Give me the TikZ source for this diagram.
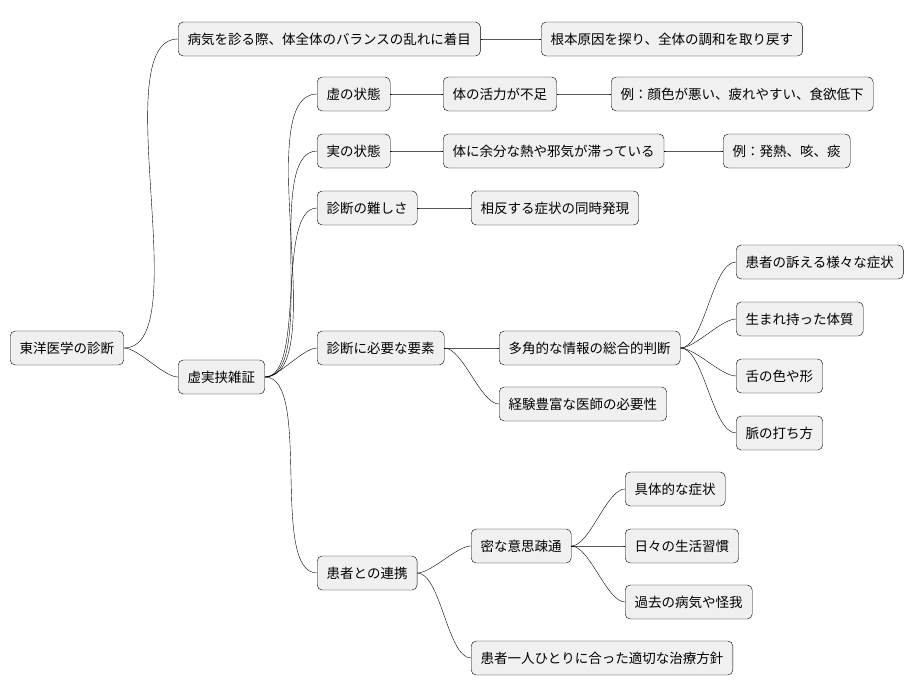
\documentclass[tikz,border=0pt]{standalone}
\usepackage{fontspec}
\setmainfont{Noto Sans CJK JP}
\tikzset{
  topic/.style={draw,fill=black!6,rounded corners=5pt,anchor=west,minimum height=34pt,inner xsep=9.5pt,font=\fontsize{13.5}{15}\selectfont},
  branch/.style={draw,thin,out=0,in=180,looseness=0.6}
}
\begin{document}
\begin{tikzpicture}[x=1pt,y=-1pt]
\useasboundingbox (0,0) rectangle (922,696);
% root and first level
\node[topic](root) at (10,348){東洋医学の診断};
\node[topic](see) at (178,39){病気を診る際、体全体のバランスの乱れに着目};
\node[topic](cause) at (541,39){根本原因を探り、全体の調和を取り戻す};
\node[topic](mix) at (178,377){虚実挟雑証};
% deficiency / excess
\node[topic](kyo) at (317,94){虚の状態};
\node[topic](kyoa) at (443,94){体の活力が不足};
\node[topic](kyob) at (611,94){例：顔色が悪い、疲れやすい、食欲低下};
\node[topic](jitsu) at (317,151){実の状態};
\node[topic](jitsua) at (443,151){体に余分な熱や邪気が滞っている};
\node[topic](jitsub) at (723,151){例：発熱、咳、痰};
\node[topic](hard) at (317,208){診断の難しさ};
\node[topic](harda) at (471,208){相反する症状の同時発現};
% required elements
\node[topic](need) at (317,348){診断に必要な要素};
\node[topic](multi) at (499,348){多角的な情報の総合的判断};
\node[topic](exp) at (499,404){経験豊富な医師の必要性};
\node[topic](m1) at (736,262){患者の訴える様々な症状};
\node[topic](m2) at (736,319){生まれ持った体質};
\node[topic](m3) at (736,376){舌の色や形};
\node[topic](m4) at (736,433){脈の打ち方};
% cooperation
\node[topic](coop) at (317,573){患者との連携};
\node[topic](talk) at (471,546){密な意思疎通};
\node[topic](t1) at (625,489){具体的な症状};
\node[topic](t2) at (625,546){日々の生活習慣};
\node[topic](t3) at (625,602){過去の病気や怪我};
\node[topic](plan) at (471,658){患者一人ひとりに合った適切な治療方針};
\foreach \a/\b in {root/see,see/cause,root/mix,mix/kyo,kyo/kyoa,kyoa/kyob,mix/jitsu,jitsu/jitsua,jitsua/jitsub,mix/hard,hard/harda,mix/need,need/multi,need/exp,multi/m1,multi/m2,multi/m3,multi/m4,mix/coop,coop/talk,coop/plan,talk/t1,talk/t2,talk/t3}
  \draw (\a.east) to[branch] (\b.west);
\end{tikzpicture}
\end{document}
